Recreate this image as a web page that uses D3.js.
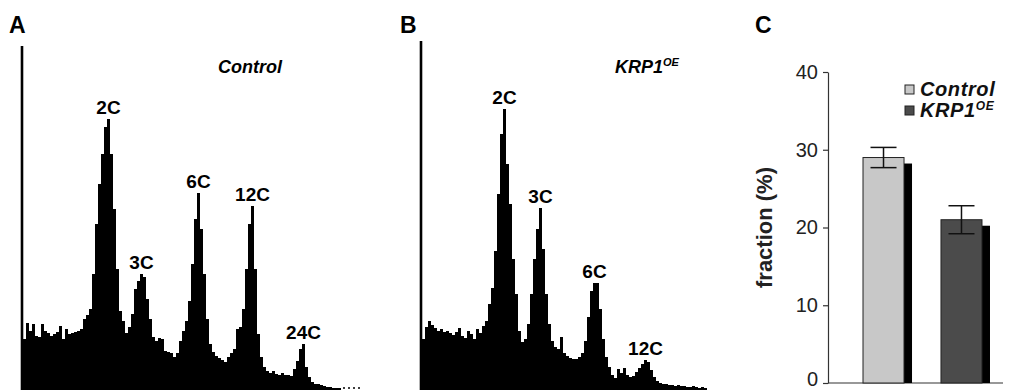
<!DOCTYPE html>
<html>
<head>
<meta charset="utf-8">
<script src="https://cdn.jsdelivr.net/npm/d3@7"></script>
<style>
  body { margin: 0; background: #fff; }
  svg { display: block; font-family: "Liberation Sans", Arial, sans-serif; }
</style>
</head>
<body>
<svg id="chart" width="1028" height="390"></svg>
<script>
// DNA content histograms (counts per channel)
const controlCounts = [
  50, 66, 58, 65, 53, 52, 65, 58, 56, 53, 55, 57, 63, 50, 60, 55, 56, 57, 58, 60,
  70, 74, 80, 115, 165, 205, 235, 262, 270, 235, 180, 120, 78, 68, 56, 62, 75, 100, 108, 115,
  112, 90, 70, 52, 48, 51, 50, 38, 37, 36, 32, 36, 48, 58, 68, 88, 125, 170, 196, 160,
  115, 70, 45, 37, 33, 31, 29, 27, 32, 36, 40, 60, 62, 80, 120, 165, 183, 120, 55, 32,
  22, 18, 16, 18, 15, 14, 16, 14, 14, 13, 20, 28, 40, 45, 22, 12, 7, 5, 5, 4,
  3, 2, 2, 1, 1, 1
];
const krpCounts = [
  50, 62, 68, 64, 61, 58, 60, 57, 58, 56, 54, 57, 61, 53, 51, 58, 55, 50, 60, 56,
  63, 68, 85, 101, 138, 195, 255, 280, 225, 185, 130, 95, 58, 47, 50, 65, 95, 130, 160, 181,
  140, 95, 65, 48, 42, 40, 52, 36, 33, 31, 30, 30, 32, 36, 48, 72, 98, 106, 106, 80,
  50, 32, 22, 14, 11, 20, 16, 21, 14, 12, 13, 17, 21, 25, 29, 27, 19, 12, 8, 6,
  5, 5, 4, 4, 3, 4, 3, 3, 2, 2, 3, 2, 1, 2, 1
];
const peakLabelsA = ["2C", "3C", "6C", "12C", "24C"];
const peakBinsA = [28, 39, 58, 76, 93];
const peakLabelsB = ["2C", "3C", "6C", "12C"];
const peakBinsB = [27, 39, 57, 74];

// panel C: fraction (%)
const groups = ["Control", "KRP1OE"];
const fractionMeans = [29.0, 21.0];
const fractionErrors = [1.3, 1.8];
const fractionTicks = [0, 10, 20, 30, 40];

const svg = d3.select("#chart");
const binPx = 3;
const yHist = d3.scaleLinear().domain([0, 340]).range([389, 49]);

function histogram(counts, x0, axisTop, labels, bins, panel, panelX) {
  const g = svg.append("g");
  const x = d3.scaleLinear().domain([0, counts.length]).range([x0, x0 + counts.length * binPx]);
  const pts = counts.map((c, i) => [i, c]).concat([[counts.length, counts[counts.length - 1]]]);
  const area = d3.area()
    .x(d => x(d[0]))
    .y0(yHist(0) + 2)
    .y1(d => yHist(d[1]))
    .curve(d3.curveStepAfter);
  g.append("path").attr("d", area(pts)).attr("fill", "#000");

  g.append("line")
    .attr("x1", x0 - 1).attr("x2", x0 - 1)
    .attr("y1", axisTop).attr("y2", 390)
    .attr("stroke", "#000").attr("stroke-width", 2.6);

  g.selectAll("text.peak")
    .data(labels)
    .enter().append("text")
    .attr("class", "peak")
    .attr("x", (d, i) => x(bins[i] + 0.5))
    .attr("y", (d, i) => yHist(counts[bins[i]]) - 5)
    .attr("text-anchor", "middle")
    .style("font-size", "19px").style("font-weight", "bold")
    .text(d => d);

  g.append("text")
    .attr("x", panelX).attr("y", 33)
    .style("font-size", "23px").style("font-weight", "bold")
    .text(panel);
  return { g, x };
}

const a = histogram(controlCounts, 23, 46, peakLabelsA, peakBinsA, "A", 9);
a.g.append("text")
  .attr("x", 250).attr("y", 73)
  .attr("text-anchor", "middle")
  .style("font-size", "18px").style("font-weight", "bold").style("font-style", "italic")
  .text("Control");
// dotted tail past the last channel
a.g.append("line")
  .attr("x1", a.x(controlCounts.length) + 2).attr("x2", a.x(controlCounts.length) + 22)
  .attr("y1", 388).attr("y2", 388)
  .attr("stroke", "#000").attr("stroke-width", 1.5).attr("stroke-dasharray", "2,3");

const b = histogram(krpCounts, 422, 41, peakLabelsB, peakBinsB, "B", 400);
const tB = b.g.append("text")
  .attr("x", 615).attr("y", 73)
  .style("font-size", "18px").style("font-weight", "bold").style("font-style", "italic");
tB.append("tspan").text("KRP1");
tB.append("tspan").style("font-size", "11px").attr("dy", -7).text("OE");

// ---- panel C ----
const gc = svg.append("g");
const yC = d3.scaleLinear().domain([0, 40]).range([383, 72]);
const xC = d3.scaleBand().domain(groups).range([828, 1017]).paddingInner(0.474).paddingOuter(0.449);
const colors = ["#c8c8c8", "#4b4b4b"];

gc.append("text")
  .attr("x", 755).attr("y", 33)
  .style("font-size", "23px").style("font-weight", "bold")
  .text("C");

const yAxis = d3.axisLeft(yC).tickValues(fractionTicks).tickSize(5).tickSizeOuter(0).tickPadding(5);
const ya = gc.append("g").attr("transform", "translate(828,0)").call(yAxis);
ya.select(".domain").attr("stroke", "#333").attr("stroke-width", 1.2);
ya.selectAll(".tick line").attr("stroke", "#333").attr("stroke-width", 1.2);
ya.selectAll(".tick text")
  .style("font-size", "20px").style("font-family", "'Liberation Sans', Arial, sans-serif")
  .attr("fill", "#222")
  .attr("dy", d => d === 0 ? "0.1em" : "0.32em");

gc.append("line")
  .attr("x1", 828).attr("x2", 1003)
  .attr("y1", yC(0)).attr("y2", yC(0))
  .attr("stroke", "#333").attr("stroke-width", 1.2);

gc.append("text")
  .attr("transform", "translate(772," + (yC(0) + yC(40)) / 2 + ") rotate(-90)")
  .attr("text-anchor", "middle")
  .style("font-size", "22px").style("font-weight", "bold").attr("fill", "#222")
  .text("fraction (%)");

// shadow behind each bar
gc.selectAll("rect.shadow")
  .data(fractionMeans)
  .enter().append("rect")
  .attr("class", "shadow")
  .attr("x", (d, i) => xC(groups[i]) + 8)
  .attr("y", d => yC(d) + 6)
  .attr("width", xC.bandwidth())
  .attr("height", d => yC(0) - yC(d) - 6)
  .attr("fill", "#000");

gc.selectAll("rect.bar")
  .data(fractionMeans)
  .enter().append("rect")
  .attr("class", "bar")
  .attr("x", (d, i) => xC(groups[i]))
  .attr("y", d => yC(d))
  .attr("width", xC.bandwidth())
  .attr("height", d => yC(0) - yC(d))
  .attr("fill", (d, i) => colors[i])
  .attr("stroke", "#222").attr("stroke-width", 1);

const eb = gc.selectAll("g.err")
  .data(fractionMeans)
  .enter().append("g")
  .attr("class", "err")
  .attr("transform", (d, i) => "translate(" + (xC(groups[i]) + xC.bandwidth() / 2) + ",0)");
eb.append("line")
  .attr("y1", (d, i) => yC(d + fractionErrors[i]))
  .attr("y2", (d, i) => yC(d - fractionErrors[i]))
  .attr("stroke", "#111").attr("stroke-width", 1.5);
eb.append("line").attr("x1", -13).attr("x2", 13)
  .attr("y1", (d, i) => yC(d + fractionErrors[i])).attr("y2", (d, i) => yC(d + fractionErrors[i]))
  .attr("stroke", "#111").attr("stroke-width", 1.5);
eb.append("line").attr("x1", -13).attr("x2", 13)
  .attr("y1", (d, i) => yC(d - fractionErrors[i])).attr("y2", (d, i) => yC(d - fractionErrors[i]))
  .attr("stroke", "#111").attr("stroke-width", 1.5);

// legend
const lg = gc.selectAll("g.legend")
  .data(groups)
  .enter().append("g")
  .attr("class", "legend")
  .attr("transform", (d, i) => "translate(905," + (85 + i * 21) + ")");
lg.append("rect")
  .attr("width", 9).attr("height", 9)
  .attr("fill", (d, i) => colors[i])
  .attr("stroke", "#222").attr("stroke-width", 1);
const lt = lg.append("text")
  .attr("x", 15).attr("y", 11)
  .style("font-size", "20px").style("font-weight", "bold").style("font-style", "italic")
  .style("letter-spacing", "0.6px").attr("fill", "#111");
lt.filter(d => d === "Control").text("Control");
const lk = lt.filter(d => d !== "Control");
lk.append("tspan").text("KRP1");
lk.append("tspan").style("font-size", "12px").attr("dy", -7).text("OE");
</script>
</body>
</html>
